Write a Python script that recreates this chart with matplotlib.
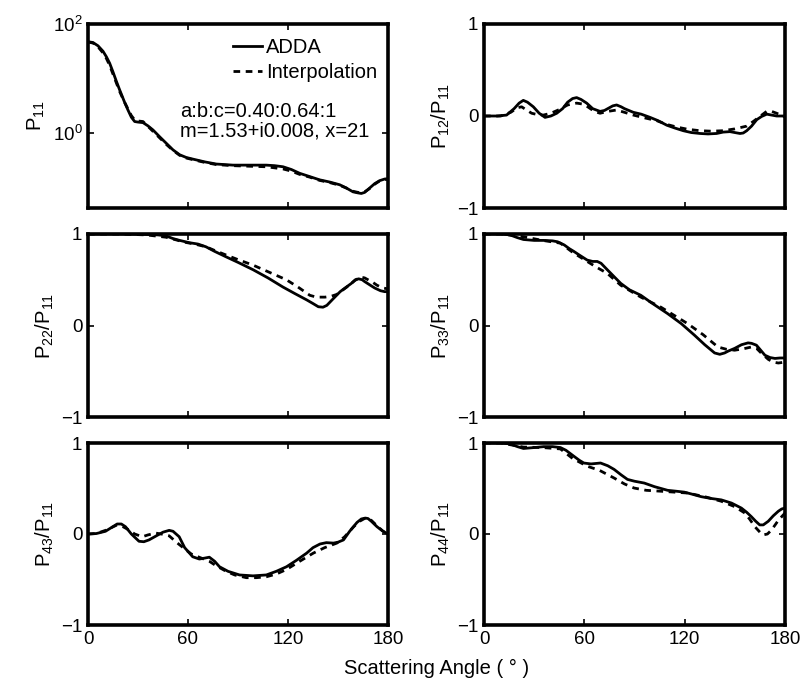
import numpy as np
import matplotlib
matplotlib.use("Agg")
import matplotlib.pyplot as plt
from matplotlib.ticker import FixedLocator, NullLocator, LogFormatterMathtext

plt.rcParams['font.family'] = ['Liberation Sans', 'DejaVu Sans']
plt.rcParams['mathtext.fontset'] = 'custom'
plt.rcParams['mathtext.rm'] = 'Liberation Sans'
plt.rcParams['mathtext.it'] = 'Liberation Sans'
plt.rcParams['mathtext.default'] = 'regular'

# ---------------- data (angles in degrees) ----------------
p11_ang = [0, 3, 6, 9, 11, 13, 15, 17, 19, 22, 24, 26, 28, 30, 33, 36, 39, 43, 47, 51, 55, 59, 63, 70, 77, 87, 97, 107, 112, 117, 122, 127, 133, 139, 145, 151, 155, 159, 162, 164, 166, 169, 172, 175, 178, 180]
p11_adda_log = [1.675, 1.66, 1.60, 1.50, 1.40, 1.28, 1.12, 0.95, 0.79, 0.56, 0.42, 0.29, 0.21, 0.20, 0.19, 0.13, 0.055, -0.07, -0.19, -0.31, -0.40, -0.45, -0.48, -0.53, -0.57, -0.59, -0.59, -0.59, -0.60, -0.62, -0.67, -0.74, -0.80, -0.86, -0.90, -0.95, -1.01, -1.08, -1.10, -1.11, -1.09, -1.01, -0.93, -0.875, -0.845, -0.84]
p11_interp_log = [1.67, 1.65, 1.58, 1.47, 1.37, 1.24, 1.08, 0.92, 0.76, 0.56, 0.44, 0.32, 0.24, 0.22, 0.21, 0.12, 0.03, -0.09, -0.21, -0.32, -0.41, -0.46, -0.49, -0.54, -0.58, -0.60, -0.61, -0.62, -0.64, -0.66, -0.70, -0.76, -0.81, -0.87, -0.91, -0.96, -1.01, -1.07, -1.09, -1.10, -1.08, -1.02, -0.94, -0.88, -0.855, -0.85]
p11_adda = [10 ** v for v in p11_adda_log]
p11_interp = [10 ** v for v in p11_interp_log]

p12_ang_a = [0, 8, 13.5, 18, 21, 23.5, 26, 29.5, 33, 36.5, 40, 43.5, 47, 50, 53, 55.4, 58, 61.4, 65, 69.4, 72, 74, 77, 79.3, 82, 84, 89.3, 94, 99.3, 104, 109.3, 114, 119.2, 124, 129.2, 134, 139.1, 143, 147.1, 150, 153.1, 155, 157.1, 160, 163.1, 166, 169.1, 172, 175, 180]
p12_adda = [0, 0, 0.01, 0.08, 0.14, 0.17, 0.15, 0.10, 0.03, -0.015, 0.0, 0.03, 0.08, 0.15, 0.19, 0.20, 0.18, 0.14, 0.08, 0.05, 0.06, 0.08, 0.11, 0.12, 0.10, 0.08, 0.04, 0.02, -0.015, -0.05, -0.10, -0.13, -0.16, -0.18, -0.19, -0.195, -0.19, -0.175, -0.17, -0.18, -0.19, -0.185, -0.16, -0.11, -0.04, -0.005, 0.02, 0.01, 0.0, 0]
p12_ang_i = [0, 10, 16, 20, 22.5, 25, 28.5, 32, 35.5, 40, 45, 50, 55.4, 59, 62, 66, 69.4, 74, 79.3, 84, 89.3, 96, 103.2, 109, 115.2, 122, 129.2, 136, 143, 150, 157.1, 161, 165, 169, 172, 175, 180]
p12_interp = [0, 0, 0.04, 0.09, 0.10, 0.07, 0.03, 0.015, 0.01, 0.03, 0.07, 0.12, 0.14, 0.13, 0.10, 0.05, 0.03, 0.05, 0.065, 0.04, 0.01, -0.02, -0.05, -0.09, -0.12, -0.145, -0.16, -0.165, -0.16, -0.14, -0.11, -0.06, -0.005, 0.05, 0.05, 0.03, -0.01]

p22_ang_a = [0, 20, 35, 42, 46.7, 51, 55, 60.8, 66, 70.8, 76, 82.9, 90, 99, 108, 117, 124, 131.2, 135, 138.2, 141, 143.3, 147, 151.3, 155, 158, 160.4, 162.4, 164.5, 166, 169.4, 172, 175.5, 178, 180]
p22_adda = [1.0, 1.0, 0.995, 0.99, 0.98, 0.95, 0.93, 0.905, 0.89, 0.86, 0.81, 0.75, 0.69, 0.61, 0.52, 0.42, 0.35, 0.28, 0.24, 0.205, 0.20, 0.22, 0.29, 0.37, 0.42, 0.46, 0.50, 0.51, 0.50, 0.48, 0.44, 0.41, 0.38, 0.37, 0.37]
p22_ang_i = [0, 20, 35, 46.7, 52, 58, 64, 70.8, 76, 82.9, 90, 99, 109, 119, 126, 133.1, 137, 142.2, 146, 149.3, 153, 156, 160, 163.4, 166, 168, 171, 173.4, 177, 180]
p22_interp = [1.0, 1.0, 0.99, 0.965, 0.94, 0.91, 0.89, 0.86, 0.82, 0.77, 0.72, 0.66, 0.58, 0.50, 0.42, 0.33, 0.31, 0.31, 0.32, 0.34, 0.39, 0.43, 0.49, 0.53, 0.52, 0.50, 0.47, 0.44, 0.41, 0.40]

p33_ang_a = [0, 10, 15.6, 20, 23.6, 30, 35.7, 41, 44, 48, 51, 53.7, 57, 61.7, 65, 67.7, 70, 73.7, 78, 81.8, 87, 93.8, 100, 109.8, 118, 125.8, 132, 137.9, 141, 143.9, 146, 149.9, 154, 157.9, 160, 162.9, 165, 168, 171, 174, 177, 180]
p33_adda = [1.0, 1.0, 0.99, 0.96, 0.94, 0.93, 0.93, 0.925, 0.915, 0.88, 0.84, 0.81, 0.77, 0.715, 0.70, 0.70, 0.68, 0.61, 0.53, 0.46, 0.39, 0.33, 0.25, 0.13, 0.02, -0.105, -0.21, -0.30, -0.315, -0.30, -0.28, -0.25, -0.21, -0.19, -0.195, -0.215, -0.26, -0.325, -0.35, -0.36, -0.355, -0.355]
p33_ang_i = [0, 10, 23.6, 35, 45.7, 53, 61.7, 67, 73.7, 81.8, 93.8, 105.8, 121.8, 131, 139.9, 145, 149.9, 155, 159.9, 163, 166, 170, 172.9, 176, 180]
p33_interp = [1.0, 1.0, 0.97, 0.93, 0.90, 0.80, 0.70, 0.64, 0.57, 0.44, 0.31, 0.20, 0.02, -0.10, -0.235, -0.26, -0.27, -0.255, -0.235, -0.25, -0.305, -0.37, -0.40, -0.41, -0.40]

p43_ang_a = [0, 5, 10.5, 14, 17.5, 20, 22.5, 26, 30.6, 33.5, 36.6, 42, 45, 48.7, 51, 54.7, 58, 62.8, 66.8, 70, 72.8, 76, 78.9, 84, 90.9, 99, 107, 113, 119.1, 125, 131.2, 135, 139.2, 143, 147.3, 150, 153.3, 157, 161.4, 164, 166.4, 168, 170, 173.4, 177, 180]
p43_adda = [0, 0.005, 0.03, 0.07, 0.11, 0.11, 0.08, 0.0, -0.08, -0.085, -0.065, -0.01, 0.02, 0.04, 0.03, -0.03, -0.15, -0.25, -0.275, -0.265, -0.255, -0.30, -0.36, -0.41, -0.45, -0.46, -0.45, -0.41, -0.36, -0.29, -0.21, -0.15, -0.11, -0.095, -0.10, -0.09, -0.065, 0.03, 0.127, 0.165, 0.175, 0.17, 0.14, 0.08, 0.03, 0]
p43_ang_i = [0, 5, 10.5, 14, 17.5, 20, 24.5, 28, 32.6, 36, 40.6, 44, 48.7, 53, 58.8, 62, 66, 72.8, 77, 82.9, 88, 95, 101, 107, 113, 119.1, 127, 135.2, 142, 149.3, 154, 159.4, 163, 166.4, 170, 173.4, 177, 180]
p43_interp = [0, 0.005, 0.04, 0.07, 0.10, 0.09, 0.045, 0.0, -0.03, -0.01, 0.01, 0.0, -0.02, -0.09, -0.175, -0.22, -0.25, -0.30, -0.35, -0.41, -0.45, -0.48, -0.48, -0.47, -0.44, -0.39, -0.30, -0.21, -0.15, -0.10, -0.03, 0.08, 0.14, 0.175, 0.15, 0.09, 0.03, 0]

p44_ang_a = [0, 10, 15.6, 20, 23.6, 30, 35.7, 41, 45.7, 49, 53.7, 57, 59.7, 64, 69.7, 74, 77.8, 82, 85.8, 90, 95.8, 102, 109.8, 115, 119.8, 124, 129.9, 136, 141.9, 148, 153.9, 157, 159.9, 162.5, 164.9, 167, 170, 173, 176, 178, 180]
p44_adda = [1.0, 1.0, 0.99, 0.96, 0.94, 0.95, 0.96, 0.96, 0.95, 0.92, 0.855, 0.81, 0.78, 0.77, 0.78, 0.75, 0.71, 0.65, 0.60, 0.58, 0.56, 0.52, 0.48, 0.47, 0.46, 0.44, 0.41, 0.39, 0.375, 0.34, 0.285, 0.24, 0.19, 0.14, 0.10, 0.10, 0.14, 0.20, 0.25, 0.275, 0.285]
p44_ang_i = [0, 10, 23.6, 35, 45.7, 53, 61.7, 69, 77.8, 84, 89.8, 97, 105.8, 114, 121.8, 132, 141.9, 150, 156, 159, 162, 165, 167, 169.5, 172, 176, 180]
p44_interp = [1.0, 1.0, 0.955, 0.95, 0.935, 0.83, 0.745, 0.70, 0.615, 0.55, 0.505, 0.48, 0.47, 0.46, 0.45, 0.41, 0.36, 0.30, 0.23, 0.16, 0.08, 0.02, -0.01, 0.0, 0.045, 0.15, 0.23]

x_ticks = [0, 60, 120, 180]
ratio_ticks = [-1, 0, 1]

# ---------------- figure ----------------
fig = plt.figure(figsize=(8.02, 6.85), dpi=100)
W, H = 802, 685

def add_ax(x0, y0, x1, y1):
    return fig.add_axes([x0 / W, 1 - y1 / H, (x1 - x0) / W, (y1 - y0) / H])

cols = [(88, 388), (484, 785)]
rows = [(24, 208), (234, 417), (443, 625)]

panels = [
    (0, 0, p11_ang, p11_adda, p11_ang, p11_interp, r'P$_{11}$'),
    (0, 1, p12_ang_a, p12_adda, p12_ang_i, p12_interp, r'P$_{12}$/P$_{11}$'),
    (1, 0, p22_ang_a, p22_adda, p22_ang_i, p22_interp, r'P$_{22}$/P$_{11}$'),
    (1, 1, p33_ang_a, p33_adda, p33_ang_i, p33_interp, r'P$_{33}$/P$_{11}$'),
    (2, 0, p43_ang_a, p43_adda, p43_ang_i, p43_interp, r'P$_{43}$/P$_{11}$'),
    (2, 1, p44_ang_a, p44_adda, p44_ang_i, p44_interp, r'P$_{44}$/P$_{11}$'),
]

lw = 2.0
for r, c, xa, ya, xi, yi, lab in panels:
    ax = add_ax(cols[c][0], rows[r][0], cols[c][1], rows[r][1])
    ax.plot(xa, ya, color='black', lw=lw, solid_joinstyle='round', label='ADDA')
    ax.plot(xi, yi, color='black', lw=lw, dashes=(2.4, 2.0), label='Interpolation')
    ax.set_xlim(0, 180)
    ax.xaxis.set_major_locator(FixedLocator(x_ticks))
    if r == 0 and c == 0:
        ax.set_yscale('log')
        ax.set_ylim(0.042, 100)
        ax.yaxis.set_major_locator(FixedLocator([1, 100]))
        ax.yaxis.set_major_formatter(LogFormatterMathtext())
        ax.yaxis.set_minor_locator(NullLocator())
        ax.legend(loc='upper left', bbox_to_anchor=(0.482, 0.925), frameon=False,
                  fontsize=14.5, handlelength=1.45, handletextpad=0.2,
                  borderpad=0, borderaxespad=0, labelspacing=0.3)
        ax.text(0.307, 0.470, 'a:b:c=0.40:0.64:1\nm=1.53+i0.008, x=21',
                transform=ax.transAxes, fontsize=14.5, va='center', ha='left',
                linespacing=1.05)
    else:
        ax.set_ylim(-1, 1)
        ax.yaxis.set_major_locator(FixedLocator(ratio_ticks))
        ax.set_yticklabels(['\u22121', '0', '1'])
    if r == 2:
        ax.set_xticklabels([str(t) for t in x_ticks])
    else:
        ax.set_xticklabels([])
    ax.set_ylabel(lab, fontsize=14.5, labelpad=4)
    ax.tick_params(direction='in', length=4, width=1.2, top=True, right=True,
                   labelsize=13.5, pad=4)
    for s in ax.spines.values():
        s.set_linewidth(2.6)

fig.text(436.5 / W, 1 - 668 / H, 'Scattering Angle ( \u00b0 )', fontsize=14.5,
         ha='center', va='center')

fig.savefig('out.png', dpi=100, facecolor='white')
